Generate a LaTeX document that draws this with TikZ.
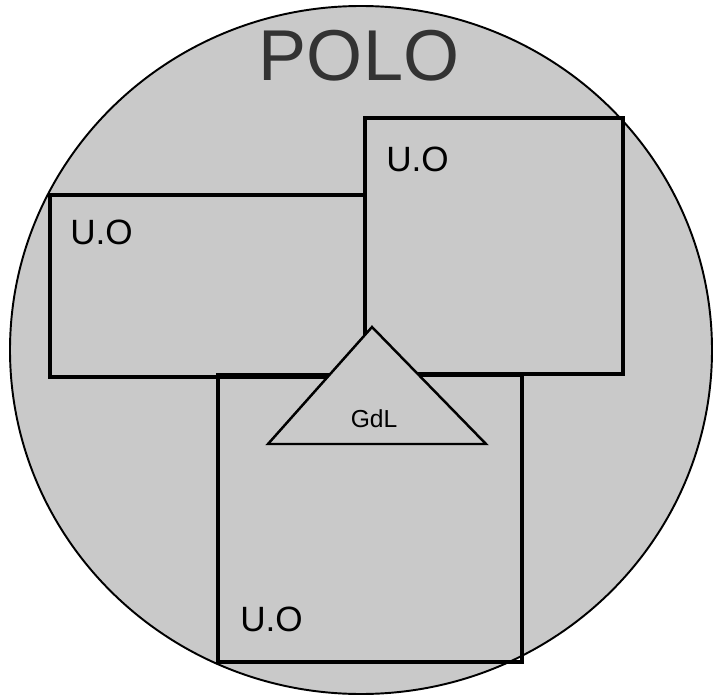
\documentclass[tikz,border=0pt]{standalone}
\usepackage{fontspec}
\setmainfont{Liberation Sans}
\definecolor{polofill}{HTML}{C9C9C9}
\definecolor{polotext}{HTML}{333333}
\tikzset{
    uobox/.style={draw=black, line width=2.6pt},
    uolabel/.style={anchor=north west, inner sep=0pt, font=\fontsize{20}{20}\selectfont},
}
\begin{document}
\begin{tikzpicture}[x=0.02cm, y=-0.02cm]
    \useasboundingbox (0,0) rectangle (717,696);

    % 圆形背景 (Polo)
    \draw[fill=polofill, line width=1.1pt] (361,350) ellipse [x radius=351, y radius=344];
    \node[text=polotext, font=\fontsize{41}{41}\selectfont, inner sep=0pt] (polo) at (359,56) {POLO};

    % 三个单元 U.O
    \draw[uobox] (50,195) rectangle (365,377);
    \draw[uobox] (365,118) rectangle (623,374);
    \draw[uobox] (218,375) rectangle (522,662);
    \node[uolabel] (uoleft) at (70,220) {U.O};
    \node[uolabel] (uoright) at (386,147) {U.O};
    \node[uolabel] (uobottom) at (240,607) {U.O};

    % 三角形 GdL
    \draw[fill=polofill, line width=1.4pt, line join=miter] (372,327) -- (486,444) -- (268,444) -- cycle;
    \node[font=\fontsize{14}{14}\selectfont, inner sep=0pt] (gdl) at (374,419) {GdL};
\end{tikzpicture}
\end{document}
